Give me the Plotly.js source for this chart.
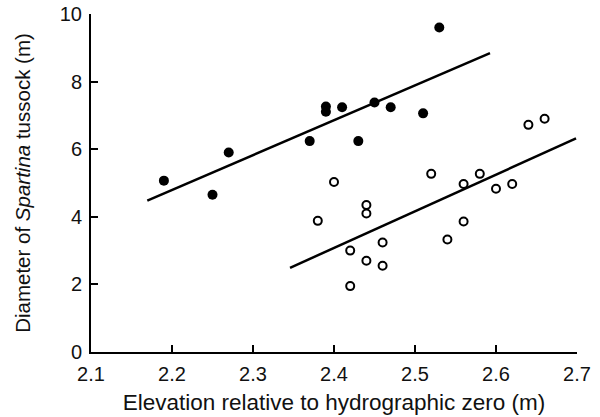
<!DOCTYPE html>
<html>
<head>
<meta charset="utf-8">
<script src="https://cdn.plot.ly/plotly-3.0.1.min.js"></script>
<style>html,body{margin:0;padding:0;background:#fff;}#chart{width:600px;height:417px;}</style>
</head>
<body>
<div id="chart"></div>
<script>
// Filled circles (upper group)
const filledX = [2.19, 2.25, 2.27, 2.37, 2.39, 2.39, 2.41, 2.43, 2.45, 2.47, 2.51, 2.53];
const filledY = [5.07, 4.65, 5.9, 6.24, 7.26, 7.11, 7.24, 6.24, 7.38, 7.24, 7.06, 9.6];
// Open circles (lower group)
const openX = [2.38, 2.40, 2.42, 2.42, 2.44, 2.44, 2.44, 2.46, 2.46, 2.52, 2.54, 2.56, 2.56, 2.58, 2.60, 2.62, 2.64, 2.66];
const openY = [3.88, 5.03, 3.0, 1.95, 4.35, 4.1, 2.7, 3.24, 2.55, 5.27, 3.33, 4.97, 3.86, 5.27, 4.83, 4.97, 6.72, 6.9];
// Regression lines (endpoints)
const fitFilledX = [2.1695, 2.5926];
const fitFilledY = [4.48, 8.84];
const fitOpenX = [2.3457, 2.6988];
const fitOpenY = [2.49, 6.32];

const xTicks = [2.1, 2.2, 2.3, 2.4, 2.5, 2.6, 2.7];
const yTicks = [0, 2, 4, 6, 8, 10];

const traces = [
  {x: fitFilledX, y: fitFilledY, mode: 'lines', line: {color: '#000', width: 2.5}, hoverinfo: 'skip'},
  {x: fitOpenX, y: fitOpenY, mode: 'lines', line: {color: '#000', width: 2.5}, hoverinfo: 'skip'},
  {x: filledX, y: filledY, mode: 'markers', marker: {symbol: 'circle', size: 10, color: '#000', line: {width: 0}}},
  {x: openX, y: openY, mode: 'markers', marker: {symbol: 'circle-open', size: 8, color: '#000', line: {width: 2, color: '#000'}}}
];

const font = {family: 'Liberation Sans, Arial, sans-serif', size: 20, color: '#111'};

const layout = {
  width: 600, height: 417,
  margin: {l: 91, r: 23, t: 14, b: 65},
  showlegend: false,
  paper_bgcolor: '#fff', plot_bgcolor: '#fff',
  font: font,
  xaxis: {
    range: [2.1, 2.7], tickvals: xTicks, ticktext: xTicks.map(v => v.toFixed(1)),
    ticks: 'inside', ticklen: 7, tickwidth: 2, tickcolor: '#000',
    showline: true, linecolor: '#000', linewidth: 2, showgrid: false, zeroline: false,
    tickfont: {size: 20}, ticklabelstandoff: 3,
    title: {text: 'Elevation relative to hydrographic zero (m)', font: {size: 22.5}, standoff: 10},
    automargin: false
  },
  yaxis: {
    range: [0, 10], tickvals: yTicks, ticktext: yTicks.map(String),
    ticks: 'inside', ticklen: 7, tickwidth: 2, tickcolor: '#000',
    showline: true, linecolor: '#000', linewidth: 2, showgrid: false, zeroline: false,
    tickfont: {size: 20}, ticklabelstandoff: 3,
    title: {text: 'Diameter of <i>Spartina</i> tussock (m)', font: {size: 20.5}, standoff: 24},
    automargin: false
  }
};

Plotly.newPlot('chart', traces, layout, {displayModeBar: false, staticPlot: true});
</script>
</body>
</html>
